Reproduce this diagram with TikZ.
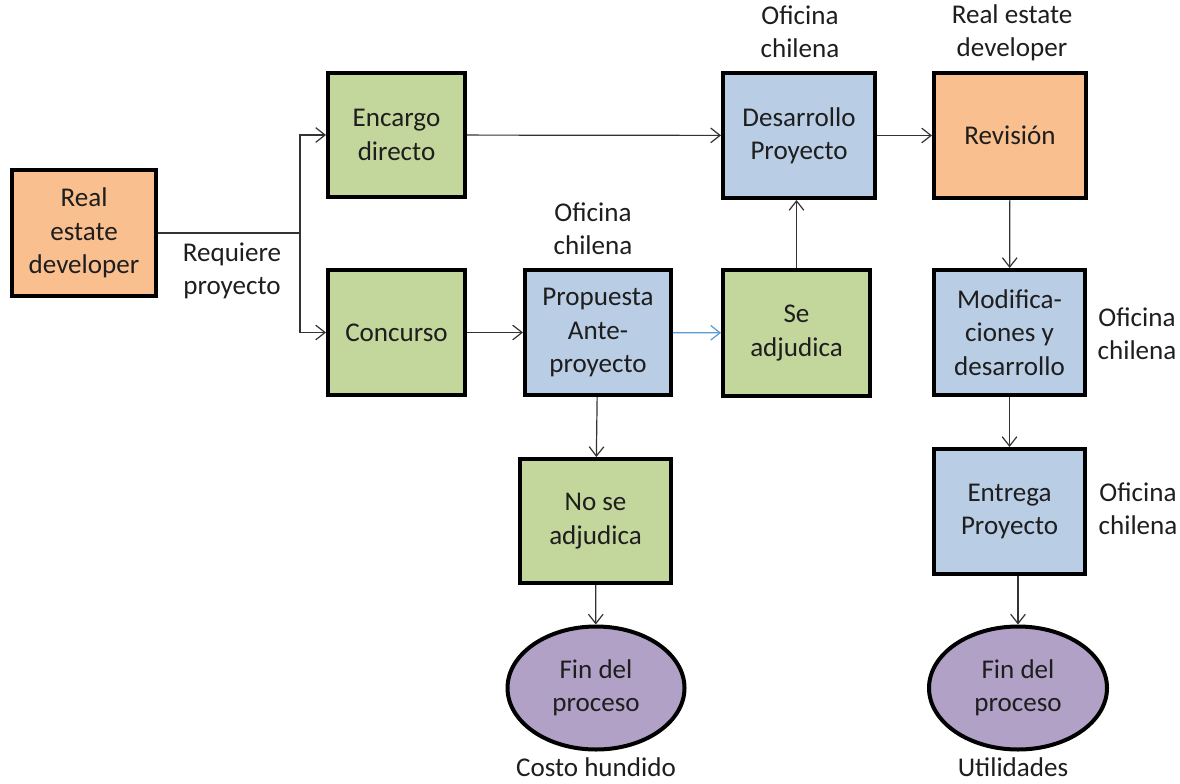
\documentclass[tikz,border=0pt]{standalone}
\usepackage{fontspec}
\setmainfont{Carlito}
\usetikzlibrary{arrows.meta,shapes.geometric}
\definecolor{borange}{HTML}{F9BF8F}
\definecolor{bgreen}{HTML}{C3D69B}
\definecolor{bblue}{HTML}{B9CDE5}
\definecolor{bpurple}{HTML}{B2A1C7}
\definecolor{txt}{HTML}{1E1E1E}
\definecolor{lnc}{HTML}{333333}
\definecolor{lblue}{HTML}{5B9BD5}
\begin{document}
\begin{tikzpicture}[x=0.75pt,y=-0.75pt,
  font=\fontsize{20.3pt}{25pt}\selectfont,
  box/.style={draw=black,line width=3pt,align=center,text=txt,inner sep=2pt},
  orangebox/.style={box,fill=borange},
  greenbox/.style={box,fill=bgreen},
  bluebox/.style={box,fill=bblue},
  endnode/.style={box,ellipse,fill=bpurple,inner sep=0pt},
  lab/.style={align=center,text=txt,inner sep=0pt},
  arr/.style={draw=lnc,line width=0.9pt,-{Straight Barb[length=7pt,width=11pt]}},
  ln/.style={draw=lnc,line width=0.9pt}]
\useasboundingbox (0,0) rectangle (1180,784);
% boxes
\node[orangebox,minimum width=144*0.75pt,minimum height=126*0.75pt] (red1) at (84,233) {Real\\estate\\developer};
\node[greenbox,minimum width=137*0.75pt,minimum height=124*0.75pt] (enc) at (396.5,135) {Encargo\\directo};
\node[greenbox,minimum width=137*0.75pt,minimum height=125*0.75pt] (con) at (396.5,332.5) {Concurso};
\node[bluebox,minimum width=146*0.75pt,minimum height=125*0.75pt] (prop) at (598,332.5) {Propuesta\\Ante-\\proyecto};
\node[greenbox,minimum width=147*0.75pt,minimum height=126*0.75pt] (seadj) at (796.5,333) {Se\\adjudica};
\node[bluebox,minimum width=152*0.75pt,minimum height=125*0.75pt] (des) at (799,135.5) {Desarrollo\\Proyecto};
\node[orangebox,minimum width=152*0.75pt,minimum height=125*0.75pt] (rev) at (1010,135.5) {Revisión};
\node[bluebox,minimum width=151*0.75pt,minimum height=125*0.75pt] (mod) at (1009.5,332.5) {Modifica-\\ciones y\\desarrollo};
\node[bluebox,minimum width=151*0.75pt,minimum height=125*0.75pt] (ent) at (1009.5,511.5) {Entrega\\Proyecto};
\node[greenbox,minimum width=151*0.75pt,minimum height=124*0.75pt] (nose) at (595.5,521) {No se\\adjudica};
\node[endnode,minimum width=177*0.75pt,minimum height=123*0.75pt] (fin1) at (596,688) {Fin del\\proceso};
\node[endnode,minimum width=178*0.75pt,minimum height=123*0.75pt] (fin2) at (1018,688) {Fin del\\proceso};
% labels
\node[lab] (lreq) at (232,271) {Requiere\\proyecto};
\node[lab] (lprop) at (593,229) {Oficina\\chilena};
\node[lab] (ldes) at (800,32) {Oficina\\chilena};
\node[lab] (lrev) at (1012,33) {Real estate\\developer};
\node[lab] (lmod) at (1137,334) {Oficina\\chilena};
\node[lab] (lent) at (1138,509) {Oficina\\chilena};
\node[lab] (lcosto) at (596,767) {Costo hundido};
\node[lab] (lutil) at (1013,767) {Utilidades};
% connectors
\coordinate (j) at (300,233);
\draw[ln] (red1.east) -- (j);
\draw[arr] (j) |- (enc.west);
\draw[arr] (j) |- (con.west);
\draw[arr] (enc) -- (des);
\draw[arr] (con) -- (prop);
\draw[arr,draw=lblue] (prop) -- (seadj);
\draw[arr] (seadj) -- (seadj |- des.south);
\draw[arr] (des) -- (rev);
\draw[arr] (rev) -- (mod);
\draw[arr] (mod) -- (ent);
\draw[arr] (prop) -- (nose);
\draw[arr] (nose) -- (fin1);
\draw[arr] (ent.south -| fin2.north) -- (fin2.north);
\end{tikzpicture}
\end{document}
